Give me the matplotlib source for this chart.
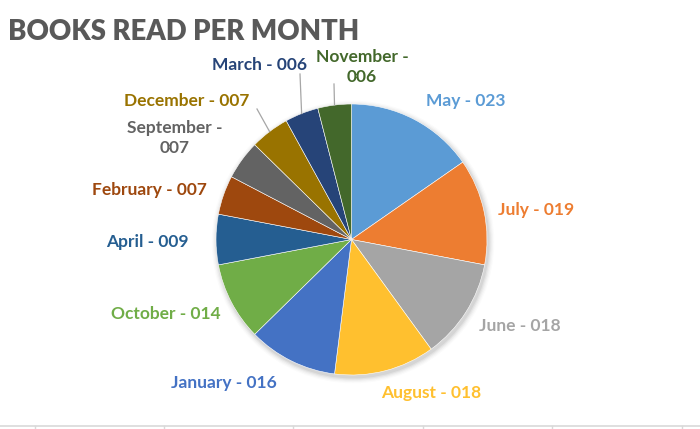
import numpy as np
import matplotlib.pyplot as plt

# data, clockwise from 12 o'clock
months = ['May', 'July', 'June', 'August', 'January', 'October', 'April',
          'February', 'September', 'December', 'March', 'November']
books = [23, 19, 18, 18, 16, 14, 9, 7, 7, 7, 6, 6]
labels = ['May - 023', 'July - 019', 'June - 018', 'August - 018',
          'January - 016', 'October - 014', 'April - 009', 'February - 007',
          'September -\n007', 'December - 007', 'March - 006', 'November -\n006']

colors = ['#5B9BD5', '#ED7D31', '#A5A5A5', '#FFC02F', '#4472C4', '#70AD47',
          '#255E91', '#9E480E', '#636363', '#997300', '#264478', '#43682B']
text_colors = ['#5B9BD5', '#ED7D31', '#A5A5A5', '#FFC02F', '#4472C4', '#70AD47',
               '#255E91', '#9E480E', '#636363', '#997300', '#264478', '#43682B']

# label layout (pixel positions in the 700x429 canvas)
label_pos = [(466, 101), (536, 210), (520, 326), (431, 393), (224, 383),
             (166, 314), (147, 242), (149, 190), (175, 138), (187, 101),
             (259, 65), (362, 67)]
leader = {9: (257, 109), 10: (300, 74), 11: (334, 84)}

cx, cy, R = 351.5, 239.5, 135.5

fig = plt.figure(figsize=(7.0, 4.29), dpi=100)
ax = fig.add_axes([0, 0, 1, 1])
ax.set_xlim(0, 700)
ax.set_ylim(429, 0)
ax.set_aspect('equal')
ax.axis('off')

# soft shadow
for i, a in enumerate(np.linspace(0.05, 0.015, 5)):
    sh = plt.Circle((cx + 1.5, cy + 2.5), R + 1 + i * 1.2, color='black',
                    alpha=a, lw=0, zorder=1)
    ax.add_patch(sh)

# y axis is inverted, so counterclock=True draws clockwise on screen
wedges, _ = ax.pie(books, colors=colors, startangle=-90, counterclock=True,
                   center=(cx, cy), radius=R, frame=True,
                   wedgeprops=dict(linewidth=0.4, edgecolor='white'))
for w in wedges:
    w.set_zorder(2)
ax.set_xlim(0, 700)
ax.set_ylim(429, 0)
ax.axis('off')

for i, (lab, (x, y)) in enumerate(zip(labels, label_pos)):
    ax.text(x, y, lab, ha='center', va='center', fontsize=12.5,
            fontweight='bold', color=text_colors[i], family='Lato',
            linespacing=1.25, zorder=3)

# leader lines for the small slices at the top
for i, (x0, y0) in leader.items():
    w = wedges[i]
    mid = np.deg2rad((w.theta1 + w.theta2) / 2)
    ex = cx + R * np.cos(mid)
    ey = cy + R * np.sin(mid)
    ax.plot([x0, ex], [y0, ey], color='#A6A6A6', lw=0.9, zorder=3)

ax.text(8, 32, 'BOOKS READ PER MONTH', ha='left', va='center', fontsize=19.8,
        fontweight='heavy', color='#595959', family='Lato')

# spreadsheet cell borders at the bottom
ax.plot([0, 700], [425.5, 425.5], color='#D9D9D9', lw=1.2)
for gx in [35, 164, 293, 423, 552, 682]:
    ax.plot([gx, gx], [425.5, 429], color='#D9D9D9', lw=1.0)

fig.savefig('out.png', dpi=100)
